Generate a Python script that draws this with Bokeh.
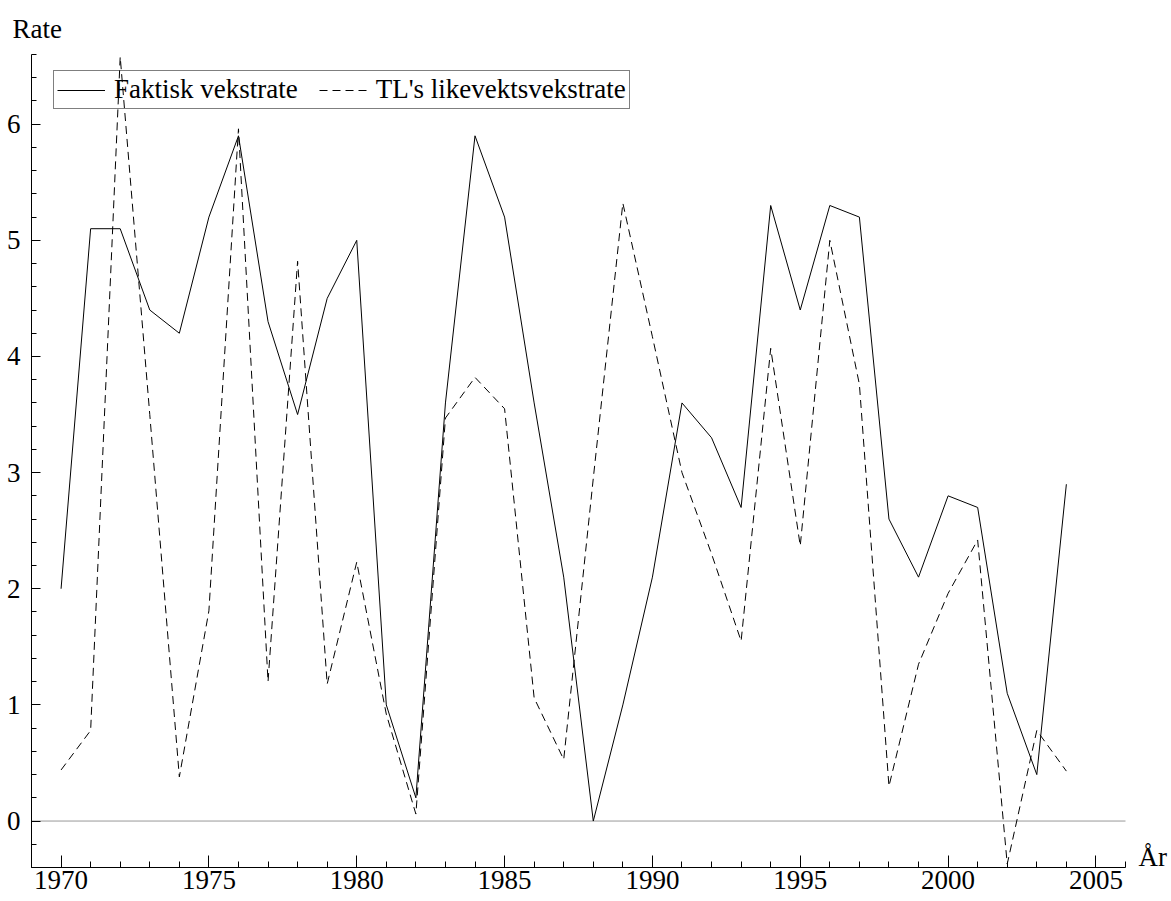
from bokeh.plotting import figure
from bokeh.models import FixedTicker, Label, Legend, LegendItem, Range1d
from bokeh.embed import file_html
from bokeh.resources import INLINE

# ---- data ----
years = list(range(1970, 2005))
faktisk = [2.0, 5.1, 5.1, 4.4, 4.2, 5.2, 5.9, 4.3, 3.5, 4.5,
           5.0, 1.0, 0.2, 3.6, 5.9, 5.2, 3.6, 2.1, 0.0, 1.0,
           2.1, 3.6, 3.3, 2.7, 5.3, 4.4, 5.3, 5.2, 2.6, 2.1,
           2.8, 2.7, 1.1, 0.4, 2.9]
tl_likevekt = [0.44, 0.78, 6.58, 3.5, 0.38, 1.81, 5.96, 1.2, 4.82, 1.18,
               2.23, 0.92, 0.06, 3.47, 3.82, 3.55, 1.06, 0.53, 2.95, 5.32,
               4.17, 3.0, 2.3, 1.55, 4.07, 2.37, 5.0, 3.76, 0.3, 1.35,
               1.96, 2.42, -0.37, 0.78, 0.43]
series_labels = ["Faktisk vekstrate", "TL's likevektsvekstrate"]
x_axis_bounds = (1969, 2006)
y_axis_bounds = (-0.4, 6.6)
x_major_ticks = [1970, 1975, 1980, 1985, 1990, 1995, 2000, 2005]
x_minor_ticks = list(range(1969, 2007))
y_major_ticks = [0, 1, 2, 3, 4, 5, 6]
y_minor_ticks = [round(-0.4 + 0.2 * k, 1) for k in range(36)]
y_title = "Rate"
x_title = "År"

FONT = "Liberation Serif"
FS = "27px"

W, H = 1171, 901
LEFT, RIGHT_AXIS_END, TOP, BOTTOM = 31, 1125, 54, 867
px_per_year = (RIGHT_AXIS_END - LEFT) / (x_axis_bounds[1] - x_axis_bounds[0])
x_end = x_axis_bounds[1] + (W - RIGHT_AXIS_END) / px_per_year

p = figure(width=W, height=H,
           x_range=Range1d(x_axis_bounds[0], x_end),
           y_range=Range1d(*y_axis_bounds),
           output_backend="svg", toolbar_location=None,
           min_border_left=LEFT, min_border_right=0,
           min_border_top=TOP, min_border_bottom=H - BOTTOM)
p.outline_line_color = None
p.grid.visible = False
p.background_fill_color = "white"
p.border_fill_color = "white"

p.title.text = y_title
p.title.text_font = FONT
p.title.text_font_size = FS
p.title.text_font_style = "normal"
p.title.text_color = "black"
p.title.align = "left"
p.title.offset = 12 - LEFT
p.title.standoff = 22

# zero line over the axis extent
p.segment(x0=[x_axis_bounds[0]], y0=[0], x1=[x_axis_bounds[1]], y1=[0],
          line_color="#999999", line_width=1)

r1 = p.line(years, faktisk, line_color="black", line_width=1)
r2 = p.line(years, tl_likevekt, line_color="black", line_width=1, line_dash="8 5")

for ax in (p.xaxis[0], p.yaxis[0]):
    ax.axis_line_color = "black"
    ax.major_tick_line_color = "black"
    ax.minor_tick_line_color = "black"
    ax.major_tick_out = 0
    ax.minor_tick_out = 0
    ax.major_label_text_font = FONT
    ax.major_label_text_font_size = FS
    ax.major_label_text_color = "black"

p.xaxis.bounds = x_axis_bounds
p.xaxis.ticker = FixedTicker(ticks=x_major_ticks, minor_ticks=x_minor_ticks)
p.xaxis.major_tick_in = 12
p.xaxis.minor_tick_in = 6
p.xaxis.major_label_standoff = 3

p.yaxis.ticker = FixedTicker(ticks=y_major_ticks, minor_ticks=y_minor_ticks)
p.yaxis.major_tick_in = 9
p.yaxis.minor_tick_in = 5
p.yaxis.major_label_standoff = 11

# x axis title to the right of the axis end
p.add_layout(Label(x=x_axis_bounds[1], y=y_axis_bounds[0], x_offset=13, y_offset=-4,
                   text=x_title, text_font=FONT, text_font_size=FS,
                   text_baseline="bottom", text_color="black"))

frame_h = BOTTOM - TOP
legend_h = 38
legend = Legend(items=[LegendItem(label=series_labels[0], renderers=[r1]),
                       LegendItem(label=series_labels[1], renderers=[r2])],
                orientation="horizontal", location=(22, frame_h - 17 - legend_h))
legend.label_text_font = FONT
legend.label_text_font_size = FS
legend.label_text_color = "black"
legend.label_text_line_height = 1.0
legend.border_line_color = "black"
legend.border_line_width = 1
legend.background_fill_alpha = 0
legend.padding = 3
legend.spacing = 21
legend.glyph_width = 48
legend.label_standoff = 9
legend.margin = 0
p.add_layout(legend)

open("out.html", "w").write(file_html(p, INLINE))
